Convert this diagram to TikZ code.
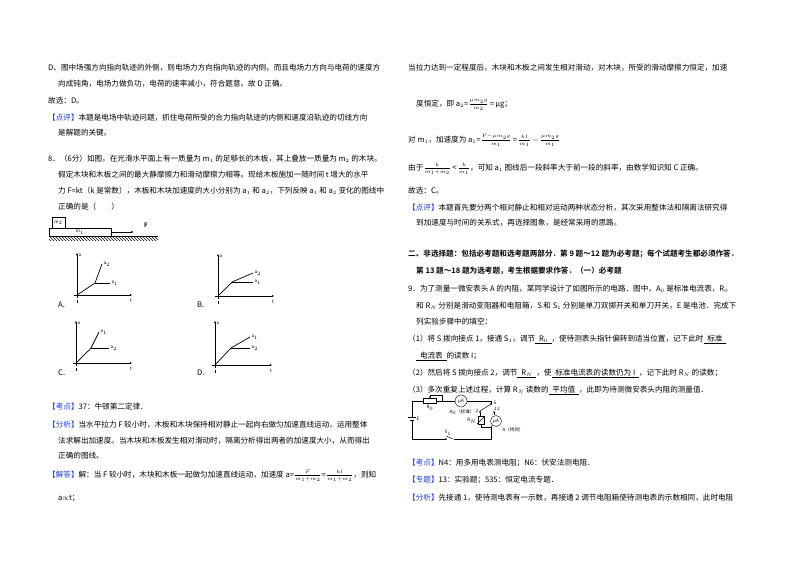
\documentclass[tikz,border=0pt]{standalone}
\usepackage{fontspec}
\setmainfont{Noto Sans CJK SC}[BoldFont={Noto Sans CJK SC Bold}]
\usetikzlibrary{patterns,arrows.meta}
\definecolor{tagblue}{RGB}{30,60,220}
\newcommand{\tagb}[1]{\textcolor{tagblue}{【#1】}}
\newcommand{\blank}[1]{\underline{\enspace#1\enspace}}
\tikzset{
  line/.style={anchor=base west, inner sep=0pt, font=\fontsize{7.6}{9}\selectfont},
  axis/.style={-{Latex[length=2pt,width=2pt]}, line width=0.5pt},
  curve/.style={line width=0.7pt},
  lab/.style={inner sep=0.5pt, font=\fontsize{4.5}{5}\selectfont},
  wire/.style={line width=0.5pt}
}
\begin{document}
\begin{tikzpicture}[x=1pt,y=-1pt]
\useasboundingbox[fill=white] (0,0) rectangle (800,565);
% left column
\node[line] (l1) at (48,70) {D、图中场强方向指向轨迹的外侧，则电场力方向指向轨迹的内侧，而且电场力方向与电荷的速度方};
\node[line] (l2) at (58,86) {向成钝角，电场力做负功，电荷的速率减小，符合题意。故 D 正确。};
\node[line] (l3) at (48,103) {故选：D。};
\node[line] (l4) at (48,120) {\tagb{点评}本题是电场中轨迹问题，抓住电荷所受的合力指向轨迹的内侧和速度沿轨迹的切线方向};
\node[line] (l5) at (58,135) {是解题的关键。};
\node[line] (l6) at (48,161) {8．（6分）如图，在光滑水平面上有一质量为 m$_1$ 的足够长的木板，其上叠放一质量为 m$_2$ 的木块。};
\node[line] (l7) at (58,177) {假定木块和木板之间的最大静摩擦力和滑动摩擦力相等。现给木板施加一随时间 t 增大的水平};
\node[line] (l8) at (58,193) {力 F=kt（k 是常数），木板和木块加速度的大小分别为 a$_1$ 和 a$_2$，下列反映 a$_1$ 和 a$_2$ 变化的图线中};
\node[line] (l9) at (58,209) {正确的是（\qquad）};
% board and block
\fill[pattern=north west lines] (49,236) rectangle (158,240);
\draw[wire] (49,236) -- (158,236);
\draw[wire] (49,228) rectangle (111,236);
\draw[wire] (52,217) rectangle (65,228);
\node[lab] (m2) at (58.5,222.5) {m$_2$};
\node[lab] (m1) at (80,232) {m$_1$};
\coordinate (fa) at (111,232);
\coordinate (fb) at (134,232);
\draw[-{Latex[length=3pt,width=2pt]}, wire] (fa) -- (fb);
\node[lab, font=\fontsize{6}{6}\bfseries] (F) at (146,225) {F};
% graphs
\foreach \nm/\ox/\oy/\tx/\ty/\kx/\ky/\ux/\uy/\ul/\vx/\vy/\vl/\lx/\ly in {
  A/77/295/132/253/95/283/102/264/2/110/283/1/58/307,
  B/218/296/274/254/232/282/253/273/2/253/282/1/197/307,
  C/76/363/132/321/91/348/99/332/1/109/348/2/58/375,
  D/215/365/272/321/231/348/250/337/1/250/348/2/197/375}{
  \draw[axis] (\ox-3,\oy) -- (\tx,\oy);
  \draw[axis] (\ox,\oy) -- (\ox,\ty);
  \draw[densely dashed, line width=0.4pt] (\ox,\oy) -- (\ox,\oy+8);
  \draw[curve] (\ox,\oy) -- (\kx,\ky) -- (\ux,\uy);
  \draw[curve] (\kx,\ky) -- (\vx,\vy);
  \node[lab, anchor=west] (u\nm) at (\ux+1,\uy) {a$_\ul$};
  \node[lab, anchor=west] (v\nm) at (\vx+1,\vy) {a$_\vl$};
  \node[lab, anchor=west] (a\nm) at (\ox+1,\ty+2) {a};
  \node[lab] (t\nm) at (\tx-1,\oy+6) {t};
  \node[line] (g\nm) at (\lx,\ly) {\nm.};
}
\node[line] (l10) at (48,409) {\tagb{考点}37：牛顿第二定律．};
\node[line] (l11) at (48,427) {\tagb{分析}当水平拉力 F 较小时，木板和木块保持相对静止一起向右做匀加速直线运动，运用整体};
\node[line] (l12) at (58,443) {法求解出加速度。当木块和木板发生相对滑动时，隔离分析得出两者的加速度大小，从而得出};
\node[line] (l13) at (58,458) {正确的图线。};
\node[line] (l14) at (48,477) {\tagb{解答}解：当 F 较小时，木块和木板一起做匀加速直线运动，加速度 a=$\frac{F}{m_1+m_2}$=$\frac{kt}{m_1+m_2}$，则知};
\node[line] (l15) at (58,500) {a$\propto$t；};
% right column
\node[line] (r1) at (408,70) {当拉力达到一定程度后，木块和木板之间发生相对滑动，对木块，所受的滑动摩擦力恒定，加速};
\node[line] (r2) at (416,106) {度恒定，即 a$_2$=$\frac{\mu m_2 g}{m_2}$\,=\,μg；};
\node[line] (r3) at (408,142) {对 m$_1$，加速度为 a$_1$=$\frac{F-\mu m_2 g}{m_1}$\,=\,$\frac{kt}{m_1}$\,$-$\,$\frac{\mu m_2 g}{m_1}$};
\node[line] (r4) at (408,170) {由于$\frac{k}{m_1+m_2}$\,<\,$\frac{k}{m_1}$，可知 a$_1$ 图线后一段斜率大于前一段的斜率，由数学知识知 C 正确。};
\node[line] (r5) at (408,193) {故选：C。};
\node[line] (r6) at (408,210) {\tagb{点评}本题首先要分两个相对静止和相对运动两种状态分析，其次采用整体法和隔离法研究得};
\node[line] (r7) at (416,225) {到加速度与时间的关系式，再选择图象，是经常采用的思路。};
\node[line, font=\fontsize{7.6}{9}\bfseries] (r8) at (408,256) {二、非选择题：包括必考题和选考题两部分．第 9 题～12 题为必考题；每个试题考生都必须作答．};
\node[line, font=\fontsize{7.6}{9}\bfseries] (r9) at (416,273) {第 13 题～18 题为选考题，考生根据要求作答．（一）必考题};
\node[line] (r10) at (408,291) {9．为了测量一微安表头 A 的内阻，某同学设计了如图所示的电路．图中，A$_0$ 是标准电流表，R$_0$};
\node[line] (r11) at (416,308) {和 R$_N$ 分别是滑动变阻器和电阻箱，S 和 S$_1$ 分别是单刀双掷开关和单刀开关，E 是电池．完成下};
\node[line] (r12) at (416,324) {列实验步骤中的填空：};
\node[line] (r13) at (408,341) {（1）将 S 拨向接点 1，接通 S$_1$，调节\blank{R$_0$}，使待测表头指针偏转到适当位置，记下此时\blank{标准}};
\node[line] (r14) at (416,358) {\blank{电流表}的读数 I；};
\node[line] (r15) at (408,375) {（2）然后将 S 拨向接点 2，调节\blank{R$_N$}，使\blank{标准电流表的读数仍为 I}，记下此时 R$_N$ 的读数；};
\node[line] (r16) at (408,392) {（3）多次重复上述过程，计算 R$_N$ 读数的\blank{平均值}，此即为待测微安表头内阻的测量值．};
% circuit
\begin{scope}[yshift=-7pt]
\coordinate (c1) at (412,394);
\coordinate (c2) at (491,394);
\coordinate (c3) at (491,432);
\coordinate (c4) at (412,432);
\draw[wire] (412,410) -- (c1) -- (423,394);
\draw[wire] (423,391.5) rectangle (436,396.5);
\draw[wire] (436,394) -- (442,394);
\draw[wire, -{Latex[length=2pt,width=2pt]}] (442,394) -- (442,388) -- (430,388) -- (430,391.5);
\node[lab] (R0) at (430,401) {R$_0$};
\draw[wire] (442,394) -- (455,394);
\node[draw, circle, minimum size=12pt, inner sep=0pt, lab] (A0) at (461,394) {μA};
\draw[wire] (A0) -- (c2) -- (491,397);
\fill (491,397) circle (0.8);
\node[lab] (S) at (495,396) {S};
\node[lab] (A0l) at (462,405) {A$_0$（标准）};
\draw[wire] (491,397) -- (480,404);
\fill (480,405) circle (0.8);
\fill (494,405) circle (0.8);
\node[lab] (k2) at (477,404) {2};
\node[lab] (k1) at (497,402) {1\,2};
\draw[wire] (480,405) -- (480,409);
\draw[wire] (478,409) rectangle (484,417);
\draw[wire] (477,417) -- (485,409);
\node[lab] (RN) at (472,414) {R$_N$};
\draw[wire] (481,417) -- (481,420) -- (491,420);
\draw[wire] (494,405) -- (494,408);
\node[draw, circle, minimum size=11pt, inner sep=0pt, lab] (Am) at (496,414) {μA};
\draw[wire] (Am) -- (491,420);
\node[lab] (Al) at (513,423) {A（待测）};
\draw[wire] (491,420) -- (c3) -- (454,432);
\draw[wire] (453,432) -- (446,429);
\fill (446,432) circle (0.8);
\node[lab] (S1) at (448,426) {S$_1$};
\draw[wire] (446,432) -- (c4) -- (412,417);
\draw[line width=1pt] (408,410) -- (416,410);
\draw[wire] (410,413) -- (414,413);
\draw[wire] (412,413) -- (412,417);
\node[lab] (E) at (418,412) {E};
\end{scope}
\node[line] (r17) at (408,465) {\tagb{考点}N4：用多用电表测电阻；N6：伏安法测电阻．};
\node[line] (r18) at (408,482) {\tagb{专题}13：实验题；535：恒定电流专题．};
\node[line] (r19) at (408,500) {\tagb{分析}先接通 1，使待测电表有一示数，再接通 2 调节电阻箱使待测电表的示数相同，此时电阻};
\end{tikzpicture}
\end{document}
